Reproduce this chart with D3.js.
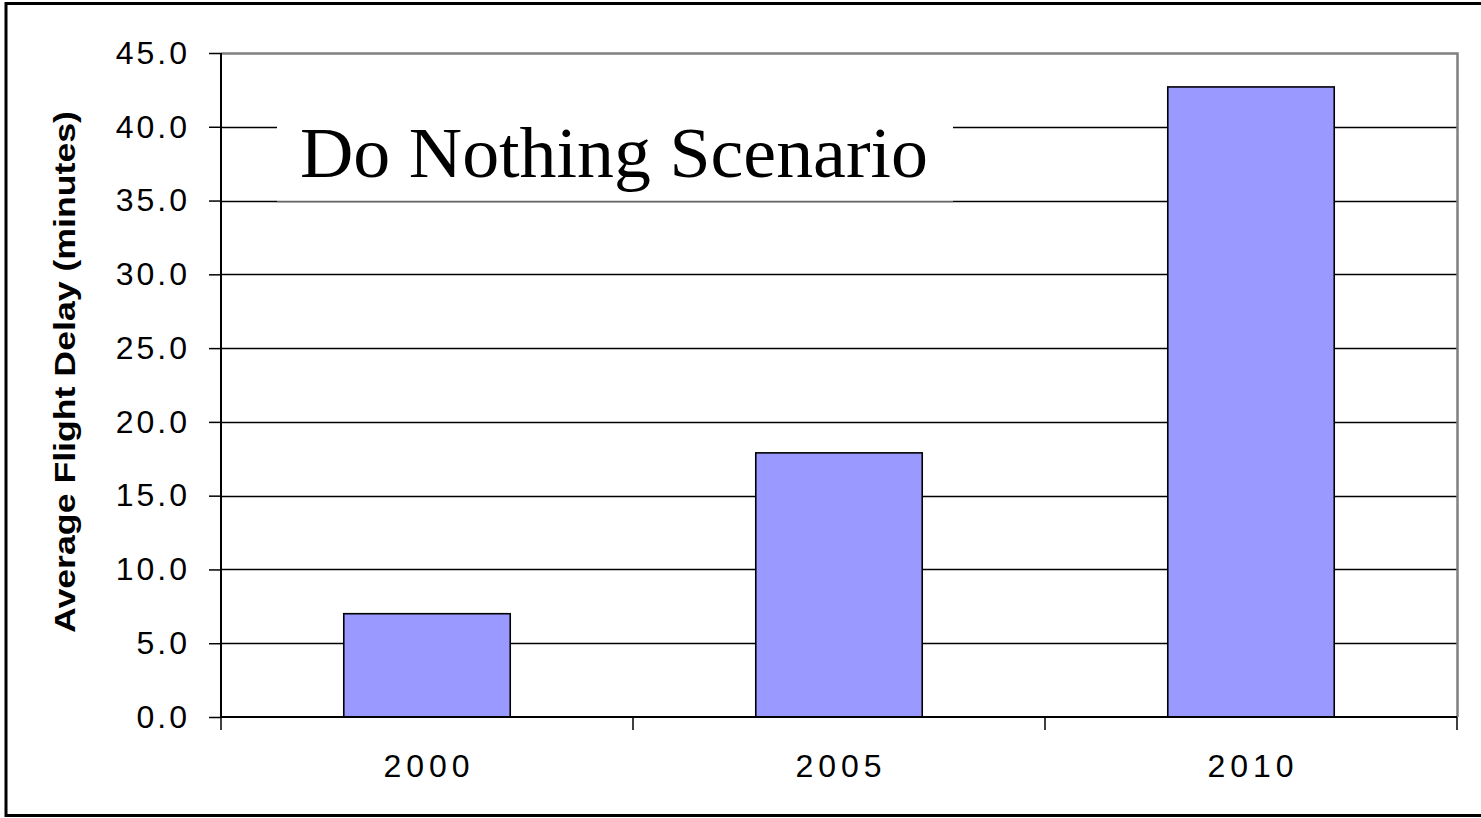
<!DOCTYPE html>
<html>
<head>
<meta charset="utf-8">
<script src="https://cdn.jsdelivr.net/npm/d3@7"></script>
<style>
html,body{margin:0;padding:0;background:#fff;}
svg{display:block;}
</style>
</head>
<body>
<script>
const categories = ["2000", "2005", "2010"];
const values = [7.0, 17.9, 42.7];
const yTicks = [0, 5, 10, 15, 20, 25, 30, 35, 40, 45];
const chartTitle = "Do Nothing Scenario";
const yAxisTitle = "Average Flight Delay (minutes)";

const W = 1481, H = 818;
const plot = {left: 221, right: 1457, top: 53, bottom: 717};

const svg = d3.select("body").append("svg").attr("width", W).attr("height", H);

// outer border
svg.append("rect").attr("x", 6).attr("y", 3.5).attr("width", 1500).attr("height", 812)
  .attr("fill", "#fff").attr("stroke", "#000").attr("stroke-width", 3);

const x = d3.scaleBand().domain(categories).range([plot.left, plot.right]).paddingInner(0.596).paddingOuter(0.298);
const xOuter = d3.scaleBand().domain(categories).range([plot.left, plot.right]);
const y = d3.scaleLinear().domain([0, 45]).range([plot.bottom, plot.top]);

// gridlines
svg.append("g").selectAll("line").data(yTicks.filter(d => d > 0 && d < 45)).join("line")
  .attr("x1", plot.left).attr("x2", plot.right)
  .attr("y1", d => Math.round(y(d)) + 0.5).attr("y2", d => Math.round(y(d)) + 0.5)
  .attr("stroke", "#000").attr("stroke-width", 1.3);

// title box (white, hides gridline)
const boxL = 277, boxR = 953;
svg.append("rect").attr("x", boxL).attr("y", y(40) - 30).attr("width", boxR - boxL)
  .attr("height", Math.round(y(35)) - (y(40) - 30)).attr("fill", "#fff");
svg.append("line").attr("x1", boxL).attr("x2", boxR)
  .attr("y1", Math.round(y(35)) + 0.5).attr("y2", Math.round(y(35)) + 0.5)
  .attr("stroke", "#666").attr("stroke-width", 1.3);
svg.append("text").attr("x", 300).attr("y", 177)
  .attr("font-family", "'Liberation Serif', 'Times New Roman', serif")
  .attr("font-size", 71).attr("fill", "#000")
  .attr("textLength", 628).attr("lengthAdjust", "spacingAndGlyphs")
  .text(chartTitle);

// plot border top/right (gray)
svg.append("path")
  .attr("d", `M${plot.left},${plot.top + 0.5}H${plot.right + 0.5}V${plot.bottom}`)
  .attr("fill", "none").attr("stroke", "#808080").attr("stroke-width", 2.5);

// bars
svg.append("g").selectAll("rect").data(values).join("rect")
  .attr("x", (d, i) => x(categories[i]))
  .attr("width", x.bandwidth())
  .attr("y", d => y(d))
  .attr("height", d => y(0) - y(d))
  .attr("fill", "#9999FF").attr("stroke", "#000").attr("stroke-width", 1.6);

// y axis
const yAxis = d3.axisLeft(y).tickValues(yTicks).tickSize(12).tickPadding(22)
  .tickFormat(d3.format(".1f"));
const gy = svg.append("g").attr("transform", `translate(${plot.left},0)`).call(yAxis);
gy.select(".domain").attr("stroke", "#000").attr("stroke-width", 2).attr("d", `M0,${plot.top}V${plot.bottom}`);
gy.selectAll(".tick line").attr("stroke", "#000").attr("stroke-width", 1.5);
gy.selectAll(".tick text").attr("font-family", "'Liberation Sans', Arial, sans-serif")
  .attr("font-size", 32).attr("letter-spacing", "3px").attr("fill", "#000").attr("dx", "3");

// x axis
const xAxis = d3.axisBottom(xOuter).tickSize(0).tickPadding(37);
const gx = svg.append("g").attr("transform", `translate(0,${plot.bottom})`).call(xAxis);
gx.select(".domain").attr("stroke", "#000").attr("stroke-width", 2).attr("d", `M${plot.left},0H${plot.right}`);
gx.selectAll(".tick text").attr("font-family", "'Liberation Sans', Arial, sans-serif")
  .attr("font-size", 32).attr("letter-spacing", "5px").attr("fill", "#000").attr("dx", "2");
// category boundary ticks
const bounds = categories.map(c => xOuter(c)).concat([plot.right]);
gx.append("g").selectAll("line").data(bounds).join("line")
  .attr("x1", d => d).attr("x2", d => d).attr("y1", 0).attr("y2", 13)
  .attr("stroke", "#000").attr("stroke-width", 1.5);

// y axis title
svg.append("text")
  .attr("transform", `translate(75,${(y(0) + y(45)) / 2 - 13}) rotate(-90)`)
  .attr("text-anchor", "middle")
  .attr("font-family", "'Liberation Sans', Arial, sans-serif")
  .attr("font-weight", "bold").attr("font-size", 30).attr("fill", "#000")
  .attr("textLength", 522).attr("lengthAdjust", "spacingAndGlyphs")
  .text(yAxisTitle);
</script>
</body>
</html>
